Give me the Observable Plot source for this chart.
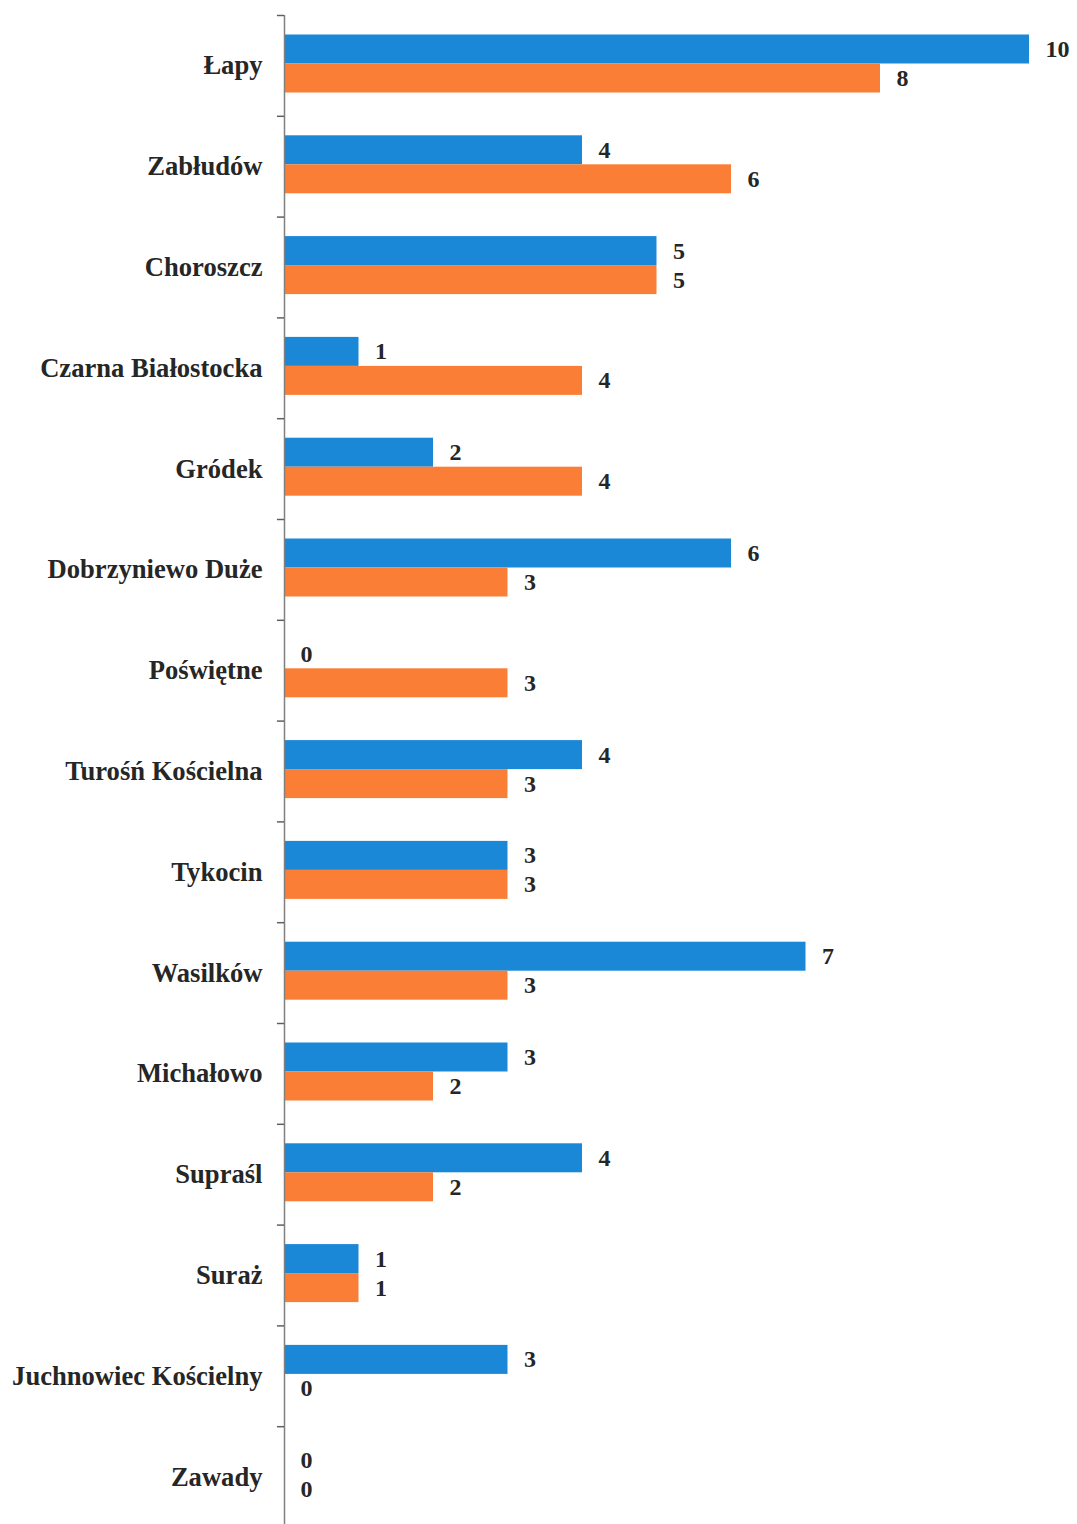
<!DOCTYPE html>
<html><head><meta charset="utf-8">
<script src="https://cdn.jsdelivr.net/npm/d3@7"></script>
<script src="https://cdn.jsdelivr.net/npm/@observablehq/plot@0.6"></script>
<style>
body{margin:0;background:#fff}
#chart svg, #chart svg text { font-family: "Liberation Serif", "Times New Roman", serif !important; }
</style>
</head><body><div id="chart"></div>
<script>
const categories = ["Łapy", "Zabłudów", "Choroszcz", "Czarna Białostocka", "Gródek", "Dobrzyniewo Duże", "Poświętne", "Turośń Kościelna", "Tykocin", "Wasilków", "Michałowo", "Supraśl", "Suraż", "Juchnowiec Kościelny", "Zawady"];
const blueValues = [10, 4, 5, 1, 2, 6, 0, 4, 3, 7, 3, 4, 1, 3, 0];
const orangeValues = [8, 6, 5, 4, 4, 3, 3, 3, 3, 3, 2, 2, 1, 0, 0];

const blueData = categories.map((c, i) => ({category: c, value: blueValues[i]}));
const orangeData = categories.map((c, i) => ({category: c, value: orangeValues[i]}));

const width = 1077, height = 1527, marginTop = 15, marginBottom = 0, marginLeft = 284, marginRight = 48;
const band = (height - marginTop - marginBottom) / categories.length;
const textColor = "#262626";
const serif = "'Liberation Serif', 'Times New Roman', serif";

const chart = Plot.plot({
  width, height, marginTop, marginBottom, marginLeft, marginRight,
  style: {"font-family": serif, background: "#fff", color: textColor},
  x: {domain: [0, 10], axis: null},
  y: {domain: categories, padding: 0, round: false},
  marks: [
    Plot.barX(blueData, {y: "category", x: "value", fill: "#1a87d7", insetTop: 19.5, insetBottom: band - 48.5}),
    Plot.barX(orangeData, {y: "category", x: "value", fill: "#fb7e36", insetTop: 48.5, insetBottom: band - 77.5}),
    Plot.text(blueData, {y: "category", x: "value", text: d => String(d.value), dx: 16, dy: -16.5, textAnchor: "start", fontSize: 24, fontWeight: "bold", fontFamily: serif, fill: textColor}),
    Plot.text(orangeData, {y: "category", x: "value", text: d => String(d.value), dx: 16, dy: 12.5, textAnchor: "start", fontSize: 24, fontWeight: "bold", fontFamily: serif, fill: textColor}),
    Plot.ruleX([0], {stroke: "#808080", strokeWidth: 1.5}),
    Plot.ruleY(categories, {y: d => d, x1: -0.095, x2: 0, dy: -band / 2, stroke: "#606060", strokeWidth: 1.5}),
    Plot.axisY({fontSize: 26.6, fontWeight: "bold", fontFamily: serif, tickSize: 0, tickPadding: 22, label: null, color: textColor})
  ]
});
document.getElementById("chart").append(chart);
</script>
</body></html>
